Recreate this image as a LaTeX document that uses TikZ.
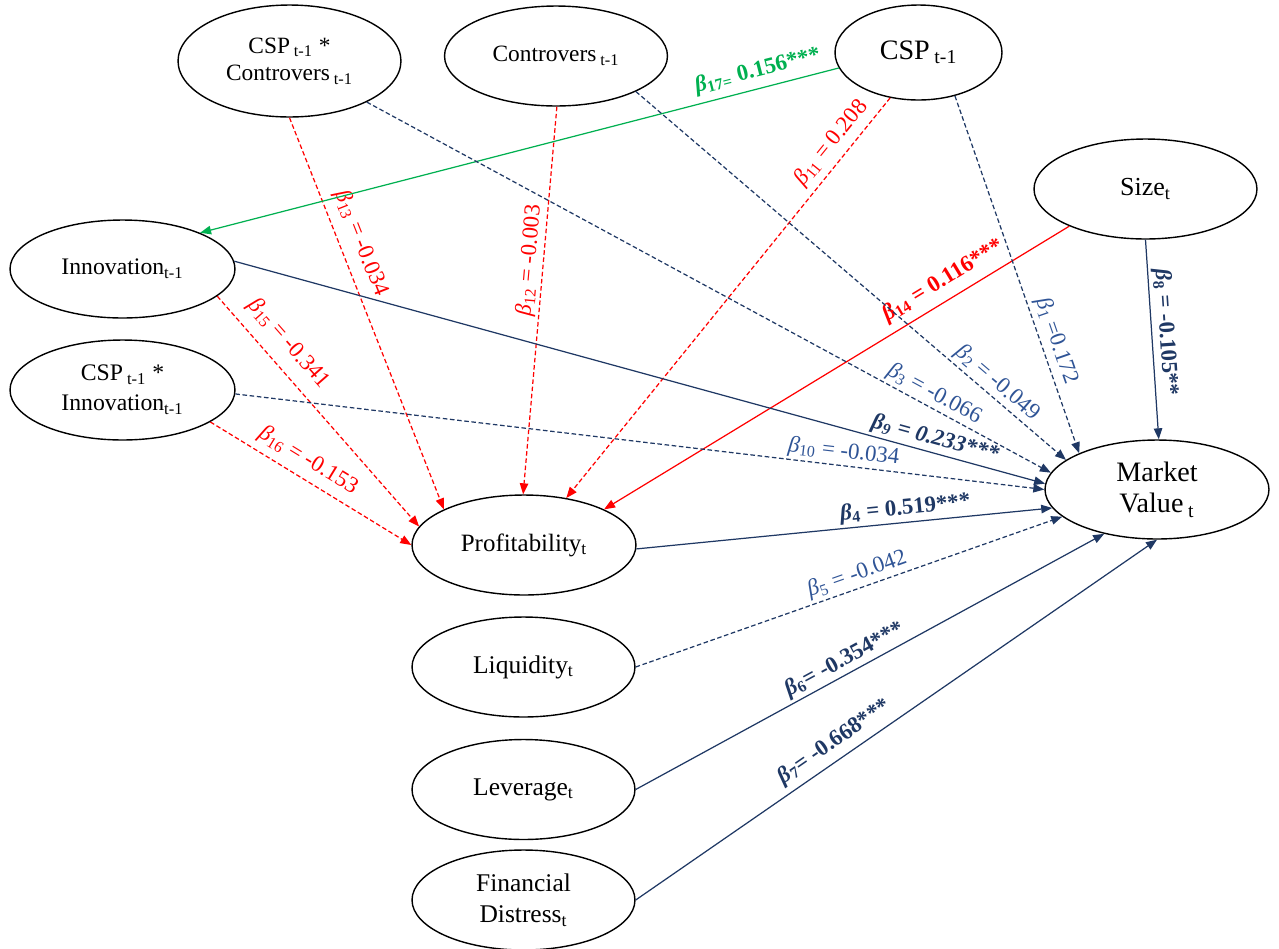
\documentclass[tikz,border=0pt]{standalone}
\usepackage{fontspec}
\setmainfont{Liberation Serif}
\usetikzlibrary{shapes.geometric,arrows.meta}
\definecolor{navy}{RGB}{31,56,100}
\definecolor{lblue}{RGB}{47,84,150}
\definecolor{pred}{RGB}{255,0,0}
\definecolor{pgreen}{RGB}{0,176,80}
\newcommand{\bb}[1]{\textit{β}\textsubscript{#1}}
\newcommand{\fs}[1]{\fontsize{#1}{#1}\selectfont}
\newcommand{\fst}[2]{\fontsize{#1}{#2}\selectfont}
\begin{document}
\begin{tikzpicture}[x=0.02cm,y=-0.02cm,
  var/.style={ellipse,draw=black,fill=white,line width=0.8pt,inner sep=0pt,align=center,
    minimum width=4.46cm,minimum height=2cm},
  arr/.style={-{Triangle[length=0.22cm,width=0.17cm]},line width=0.7pt},
  nsol/.style={arr,draw=navy},
  ndash/.style={arr,draw=navy,dash pattern=on 2.6pt off 1.5pt},
  rdash/.style={arr,draw=pred,dash pattern=on 2.6pt off 1.5pt},
  rsol/.style={arr,draw=pred},
  gsol/.style={arr,draw=pgreen},
  lab/.style={sloped,inner sep=1.5pt,font=\fs{13}},
  blab/.style={sloped,inner sep=1.5pt,font=\fs{13}\bfseries},
]
\useasboundingbox (0,0) rectangle (1279,948);

% nodes
\node[var,minimum height=2.24cm,font=\fst{13.3}{15.6}] (CSPC) at (289.5,61) {CSP\,\textsubscript{t-1} *\\Controvers\,\textsubscript{t-1}};
\node[var,font=\fs{13.3}] (CONT) at (556,56) {Controvers\,\textsubscript{t-1}};
\node[var,minimum width=3.34cm,minimum height=1.9cm,font=\fs{16}] (CSP) at (918.5,52.5) {CSP\,\textsubscript{t-1}};
\node[var,font=\fs{14.8}] (SIZE) at (1145.5,189) {Size\textsubscript{t}};
\node[var,minimum width=4.5cm,minimum height=1.96cm,font=\fs{13.5}] (INNOV) at (122.5,269) {Innovation\textsubscript{t-1}};
\node[var,minimum width=4.5cm,font=\fst{13.5}{17}] (CSPI) at (122.5,390) {CSP\,\textsubscript{t-1} *\\Innovation\textsubscript{t-1}};
\node[var,minimum width=4.48cm,font=\fs{14.2}] (PROF) at (524,545) {Profitability\textsubscript{t}};
\node[var,font=\fs{14.5}] (LIQ) at (523.5,667) {Liquidity\textsubscript{t}};
\node[var,font=\fs{14.5}] (LEV) at (523.5,789.5) {Leverage\textsubscript{t}};
\node[var,font=\fst{14.5}{17.6}] (FIN) at (523.5,900) {Financial\\Distress\textsubscript{t}};
\node[var,minimum width=4.48cm,minimum height=1.98cm,font=\fst{16}{17.8}] (MV) at (1157,489.5) {Market\\Value\,\textsubscript{t}};

% red paths to profitability
\draw[rdash] (CSPC.-90) -- (PROF.156)
  node[lab,text=pred,pos=0.34,above=4pt] {\bb{13} = -0.034};
\draw[rdash] (CONT.-89) -- (PROF.91)
  node[lab,text=pred,pos=0.40,above] {\bb{12} = -0.003};
\draw[rdash] (CSP.-122) -- (PROF.48)
  node[lab,text=pred,pos=0.14,above=2pt] {\bb{11} = 0.208};
\draw[rdash] (INNOV.-16) -- (PROF.170)
  node[lab,text=pred,pos=0.27,above=5pt] {\bb{15} = -0.341};
\draw[rdash] (CSPI.-20) -- (PROF.180)
  node[lab,text=pred,pos=0.44,above=2.5pt] {\bb{16} = -0.153};
\draw[rsol] (SIZE.-154) -- (PROF.24)
  node[blab,text=pred,pos=0.25,above=3pt] {\bb{14} = 0.116***};

% green
\draw[gsol] (CSP.-169) -- (INNOV.25)
  node[blab,text=pgreen,pos=0.12,above=2pt] {\bb{17=} 0.156***};

% navy paths to market value
\draw[ndash] (CSP.-50) -- (MV.155)
  node[lab,text=lblue,pos=0.70,above=1pt] {\bb{1} =0.172};
\draw[nsol] (SIZE.-90) -- (MV.88)
  node[blab,text=navy,pos=0.47,above] {\bb{8} = -0.105**};
\draw[ndash] (CONT.-24) -- (MV.162)
  node[lab,text=lblue,pos=0.82,above] {\bb{2} = -0.049};
\draw[ndash] (CSPC.-28) -- (MV.171)
  node[lab,text=lblue,pos=0.82,above] {\bb{3} = -0.066};
\draw[nsol] (INNOV.4) -- (MV.177)
  node[blab,text=navy,pos=0.86,above] {\itshape\bb{9} = 0.233***};
\draw[ndash] (CSPI.-2) -- (MV.180)
  node[lab,text=lblue,pos=0.75,above] {\bb{10} = -0.034};
\draw[nsol] (PROF.-2) -- (MV.-170)
  node[blab,text=navy,pos=0.65,above] {\bb{4} = 0.519***};
\draw[ndash] (LIQ.0) -- (MV.-164)
  node[lab,text=lblue,pos=0.53,above] {\bb{5} = -0.042};
\draw[nsol] (LEV.0) -- (MV.-140)
  node[blab,text=navy,pos=0.46,above] {\bb{6}= -0.354***};
\draw[nsol] (FIN.0) -- (MV.-90)
  node[blab,text=navy,pos=0.40,above=2pt] {\bb{7}= -0.668***};
\end{tikzpicture}
\end{document}
